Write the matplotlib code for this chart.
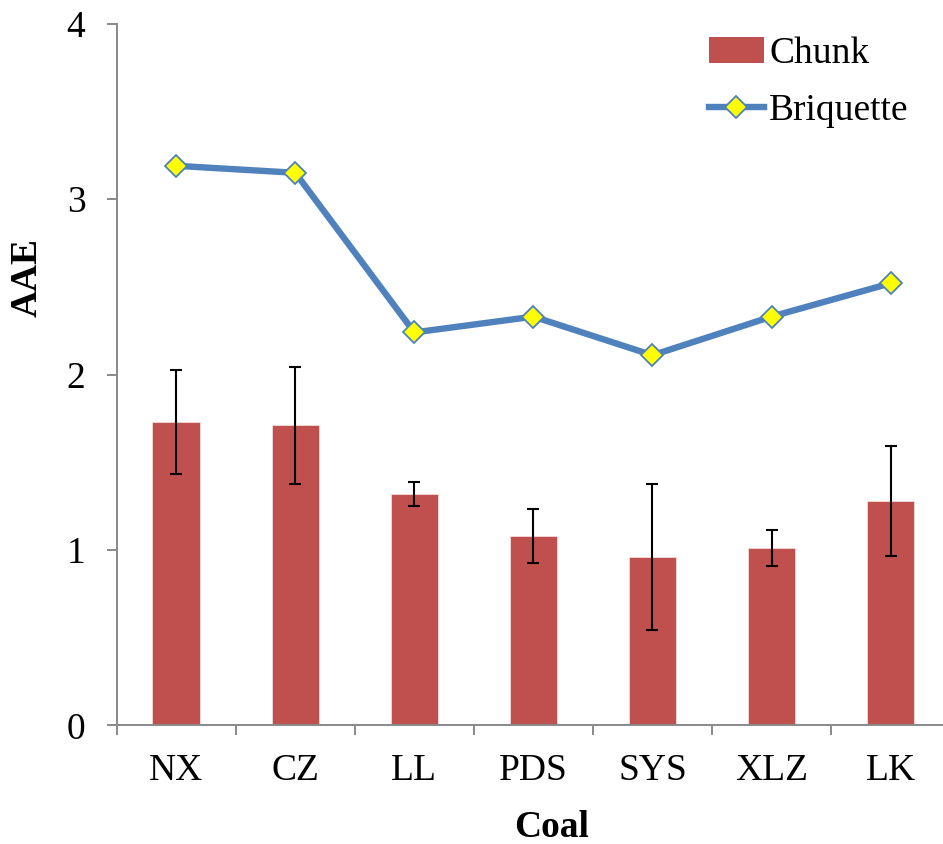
import matplotlib.pyplot as plt
import numpy as np
from matplotlib.lines import Line2D
from matplotlib.patches import Patch

# values
coals = ["NX", "CZ", "LL", "PDS", "SYS", "XLZ", "LK"]
chunk_aae = [1.73, 1.71, 1.32, 1.08, 0.96, 1.01, 1.28]
chunk_err = [0.295, 0.333, 0.068, 0.156, 0.417, 0.104, 0.315]
briquette_aae = [3.19, 3.15, 2.24, 2.33, 2.11, 2.33, 2.52]
y_ticks = [0, 1, 2, 3, 4]

BAR_COLOR = "#C0504D"
LINE_COLOR = "#4F81BD"
AXIS_COLOR = "#898989"

plt.rcParams["font.family"] = ["Liberation Serif", "DejaVu Serif"]

fig = plt.figure(figsize=(9.43, 8.44), dpi=100)
ax = fig.add_axes([0.1238, 0.1406, 0.8837, 0.8313])

x = np.arange(len(coals))
ax.bar(x, chunk_aae, width=0.40, color=BAR_COLOR, edgecolor="#F2DCDB",
       linewidth=0.6, zorder=2)
ax.errorbar(x, chunk_aae, yerr=chunk_err, fmt="none", ecolor="black",
            elinewidth=1.5, capsize=4.5, capthick=1.5, zorder=3)
ax.plot(x, briquette_aae, color=LINE_COLOR, linewidth=4.6, marker="D",
        markersize=11, markerfacecolor="#FFFF00", markeredgecolor=LINE_COLOR,
        markeredgewidth=1.3, zorder=4)

ax.set_xlim(-0.5, len(coals) - 0.5)
ax.set_ylim(0, 4)
ax.set_yticks(y_ticks)
ax.set_yticklabels([str(v) for v in y_ticks])

# category boundaries carry the tick marks, centres carry the labels
ax.set_xticks(np.arange(-0.5, len(coals), 1.0))
ax.set_xticklabels([])
ax.set_xticks(x, minor=True)
ax.set_xticklabels(coals, minor=True)
ax.tick_params(axis="x", which="major", direction="out", length=7.5,
               width=1.4, color=AXIS_COLOR)
ax.tick_params(axis="x", which="minor", length=0, pad=20, labelsize=27)
ax.tick_params(axis="y", direction="out", length=7.5, width=1.4,
               color=AXIS_COLOR, pad=15, labelsize=27)

for side in ["top", "right"]:
    ax.spines[side].set_visible(False)
for side in ["left", "bottom"]:
    ax.spines[side].set_color(AXIS_COLOR)
    ax.spines[side].set_linewidth(1.4)

ax.set_ylabel("AAE", fontsize=27, fontweight="bold")
ax.yaxis.set_label_coords(-0.1077, 0.638)
ax.set_xlabel("Coal", fontsize=27, fontweight="bold")
ax.xaxis.set_label_coords(0.522, -0.145)
ax.xaxis.label.set_va("center")
ax.yaxis.label.set_va("center")

handles = [
    Patch(facecolor=BAR_COLOR, edgecolor="none", label="Chunk"),
    Line2D([0], [0], color=LINE_COLOR, linewidth=4.6, marker="D", markersize=11,
           markerfacecolor="#FFFF00", markeredgecolor=LINE_COLOR,
           markeredgewidth=1.3, label="Briquette"),
]
fig.legend(handles=handles, loc="upper left", bbox_to_anchor=(0.752, 0.957),
           frameon=False, fontsize=27, handlelength=1.45, handleheight=0.7,
           handletextpad=0.15, labelspacing=0.6, borderpad=0, borderaxespad=0)

fig.savefig("out.png", dpi=100)
